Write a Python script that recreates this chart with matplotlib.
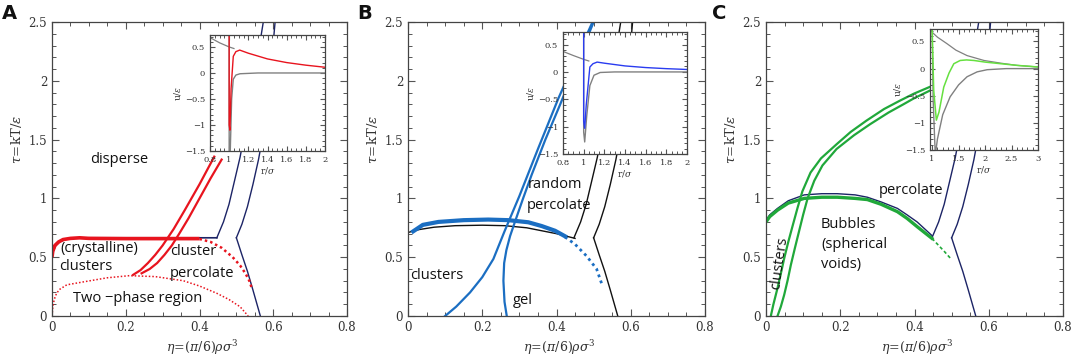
import matplotlib.pyplot as plt
from matplotlib.ticker import MultipleLocator, FuncFormatter

plt.rcParams['font.family'] = 'DejaVu Serif'
plt.rcParams['mathtext.fontset'] = 'dejavuserif'

# ---------------- data ----------------
# percolation lines (same in all three panels)
perc_left_x = [0.447, 0.465, 0.48, 0.495, 0.51, 0.525, 0.54, 0.555, 0.573]
perc_left_y = [0.665, 0.8, 0.95, 1.15, 1.35, 1.6, 1.9, 2.15, 2.5]
perc_right_x = [0.5, 0.515, 0.53, 0.545, 0.56, 0.573, 0.585, 0.595, 0.605]
perc_right_y = [0.665, 0.78, 0.93, 1.12, 1.33, 1.55, 1.85, 2.15, 2.5]
perc_down_x = [0.5, 0.515, 0.53, 0.545, 0.565]
perc_down_y = [0.665, 0.52, 0.38, 0.22, 0.0]

# panel A
a_bound_x = [0.003, 0.01, 0.02, 0.035, 0.05, 0.1, 0.2, 0.3, 0.4, 0.447]
a_bound_y = [0.55, 0.6, 0.63, 0.65, 0.66, 0.665, 0.665, 0.665, 0.665, 0.665]
a_red_x = [0.0, 0.002, 0.008, 0.018, 0.03, 0.05, 0.075, 0.1, 0.2, 0.3, 0.4]
a_red_y = [0.50, 0.55, 0.6, 0.63, 0.65, 0.66, 0.665, 0.66, 0.658, 0.658, 0.658]
a_reddot_x = [0.4, 0.43, 0.46, 0.49, 0.51, 0.525, 0.535, 0.542]
a_reddot_y = [0.655, 0.63, 0.58, 0.5, 0.43, 0.36, 0.3, 0.235]
a_dome_x = [0.0, 0.002, 0.006, 0.012, 0.02, 0.04, 0.085, 0.15, 0.21, 0.28, 0.356, 0.4, 0.447, 0.48, 0.51, 0.532]
a_dome_y = [0.0, 0.07, 0.14, 0.19, 0.225, 0.265, 0.29, 0.325, 0.343, 0.335, 0.30, 0.255, 0.193, 0.14, 0.079, 0.0]
a_pair1_x = [0.22, 0.24, 0.26, 0.28, 0.3, 0.33, 0.36, 0.4, 0.44]
a_pair1_y = [0.35, 0.39, 0.45, 0.52, 0.6, 0.74, 0.9, 1.12, 1.355]
a_pair2_x = [0.243, 0.265, 0.285, 0.305, 0.325, 0.345, 0.37, 0.4, 0.43, 0.46]
a_pair2_y = [0.363, 0.4, 0.45, 0.52, 0.6, 0.7, 0.83, 1.0, 1.17, 1.33]

# panel B
b_black_x = [0.0, 0.03, 0.07, 0.127, 0.2, 0.261, 0.32, 0.36, 0.4, 0.45]
b_black_y = [0.71, 0.735, 0.755, 0.768, 0.772, 0.768, 0.75, 0.725, 0.70, 0.66]
b_thick_x = [0.014, 0.04, 0.082, 0.15, 0.216, 0.27, 0.324, 0.36, 0.396, 0.423]
b_thick_y = [0.72, 0.775, 0.80, 0.815, 0.82, 0.815, 0.797, 0.765, 0.725, 0.678]
b_dot_x = [0.423, 0.45, 0.481, 0.508, 0.522]
b_dot_y = [0.672, 0.61, 0.51, 0.40, 0.272]
b_left_x = [0.1, 0.13, 0.167, 0.2, 0.23, 0.26, 0.3, 0.35, 0.405, 0.45, 0.497]
b_left_y = [0.0, 0.08, 0.2, 0.33, 0.485, 0.72, 1.02, 1.42, 1.85, 2.17, 2.5]
b_right_x = [0.266, 0.26, 0.257, 0.259, 0.265, 0.275, 0.288, 0.31, 0.333, 0.37, 0.41, 0.455, 0.5]
b_right_y = [0.0, 0.12, 0.3, 0.45, 0.56, 0.68, 0.8, 1.0, 1.2, 1.5, 1.8, 2.15, 2.5]

# panel C
c_navy_x = [0.0, 0.01, 0.031, 0.06, 0.103, 0.15, 0.192, 0.24, 0.273, 0.31, 0.354, 0.38, 0.407, 0.447]
c_navy_y = [0.815, 0.86, 0.915, 0.98, 1.03, 1.04, 1.04, 1.03, 1.01, 0.97, 0.915, 0.86, 0.80, 0.684]
c_green_x = [0.0, 0.01, 0.031, 0.06, 0.103, 0.15, 0.192, 0.24, 0.273, 0.31, 0.354, 0.38, 0.407, 0.447]
c_green_y = [0.80, 0.845, 0.9, 0.96, 1.0, 1.01, 1.01, 1.0, 0.99, 0.95, 0.887, 0.83, 0.76, 0.66]
c_dash_x = [0.447, 0.465, 0.48, 0.497]
c_dash_y = [0.66, 0.6, 0.55, 0.49]
c_left_x = [0.013, 0.02, 0.031, 0.04, 0.049, 0.06, 0.072, 0.085, 0.098, 0.12, 0.148, 0.19, 0.228, 0.27, 0.318, 0.36, 0.398, 0.45, 0.5]
c_left_y = [0.0, 0.1, 0.237, 0.36, 0.49, 0.63, 0.77, 0.92, 1.06, 1.22, 1.34, 1.46, 1.565, 1.66, 1.76, 1.83, 1.89, 1.96, 2.03]
c_right_x = [0.031, 0.04, 0.049, 0.058, 0.067, 0.078, 0.089, 0.1, 0.112, 0.13, 0.152, 0.19, 0.237, 0.28, 0.33, 0.37, 0.398, 0.45, 0.5]
c_right_y = [0.0, 0.08, 0.18, 0.3, 0.435, 0.58, 0.72, 0.86, 1.0, 1.15, 1.28, 1.42, 1.537, 1.63, 1.73, 1.8, 1.85, 1.93, 2.0]

# insets: potentials u/eps vs r/sigma
ia_rep_x = [0.8, 0.9, 1.0, 1.05]
ia_rep_y = [0.68, 0.58, 0.5, 0.47]
ia_well_x = [1.0, 1.0, 1.01, 1.026, 1.043, 1.07, 1.113, 1.3, 2.0]
ia_well_y = [0.8, -1.5, -1.6, -0.5, -0.12, -0.04, -0.015, 0.0, 0.0]
ia_red_x = [1.0, 1.0, 1.008, 1.02, 1.043, 1.07, 1.11, 1.2, 1.4, 1.6, 1.8, 2.0]
ia_red_y = [0.8, -1.0, -1.1, -0.3, 0.32, 0.41, 0.44, 0.38, 0.27, 0.2, 0.15, 0.11]

ib_rep_x = [0.8, 0.9, 1.0, 1.05]
ib_rep_y = [0.375, 0.3, 0.23, 0.2]
ib_well_x = [1.0, 1.0, 1.01, 1.03, 1.06, 1.1, 1.16, 1.3, 2.0]
ib_well_y = [0.8, -1.1, -1.28, -0.8, -0.25, -0.06, -0.01, 0.0, 0.0]
ib_blue_x = [1.0, 1.0, 1.01, 1.025, 1.06, 1.09, 1.13, 1.2, 1.4, 1.6, 1.8, 2.0]
ib_blue_y = [0.8, -0.9, -1.03, -0.6, 0.09, 0.15, 0.18, 0.16, 0.11, 0.08, 0.06, 0.045]

ic_rep_x = [0.98, 1.0, 1.1, 1.28, 1.45, 1.66, 1.98, 2.3, 2.6, 3.0]
ic_rep_y = [0.75, 0.67, 0.58, 0.46, 0.34, 0.24, 0.15, 0.1, 0.06, 0.03]
ic_well_x = [1.0, 1.02, 1.06, 1.1, 1.2, 1.34, 1.5, 1.66, 1.85, 2.04, 2.4, 3.0]
ic_well_y = [0.75, -0.6, -1.6, -1.3, -0.85, -0.52, -0.3, -0.15, -0.06, -0.02, 0.0, 0.0]
ic_green_x = [1.0, 1.03, 1.08, 1.13, 1.22, 1.32, 1.41, 1.53, 1.65, 1.79, 2.0, 2.3, 2.6, 3.0]
ic_green_y = [0.75, -0.4, -0.95, -0.8, -0.34, -0.08, 0.09, 0.15, 0.16, 0.15, 0.12, 0.09, 0.06, 0.03]

NAVY = '#1c2466'
RED = '#e8141e'
BLUE = '#1b6ec2'
IBLUE = '#2a3cf0'
GRAY = '#808080'
GREEN = '#20a83a'
LGREEN = '#66e040'

W, H = 1072, 356
fig = plt.figure(figsize=(W / 100, H / 100), dpi=100)


def px_axes(l, t, r, b):
    return fig.add_axes([l / W, 1 - b / H, (r - l) / W, (b - t) / H])


fmt = FuncFormatter(lambda v, p: f'{v:g}'.replace('-', '\u2212'))


def style(ax, xmaj, xmin, ymaj, ymin, size, ticklen):
    ax.xaxis.set_major_locator(MultipleLocator(xmaj))
    ax.xaxis.set_minor_locator(MultipleLocator(xmin))
    ax.yaxis.set_major_locator(MultipleLocator(ymaj))
    ax.yaxis.set_minor_locator(MultipleLocator(ymin))
    ax.xaxis.set_major_formatter(fmt)
    ax.yaxis.set_major_formatter(fmt)
    ax.tick_params(which='both', direction='in', top=True, right=True,
                   labelsize=size, color='#555555', labelcolor='#333333')
    ax.tick_params(which='major', length=ticklen, width=0.8)
    ax.tick_params(which='minor', length=ticklen * 0.55, width=0.7)
    for s in ax.spines.values():
        s.set_color('#444444')
        s.set_linewidth(0.9)


def main_axes(l, t, r, b, letter, lx):
    ax = px_axes(l, t, r, b)
    ax.set_xlim(0, 0.8)
    ax.set_ylim(0, 2.5)
    style(ax, 0.2, 0.05, 0.5, 0.1, 8.5, 5)
    ax.set_xlabel(r'$\eta\!=\!(\pi/6)\rho\sigma^3$', fontsize=9, color='#333333')
    ax.xaxis.set_label_coords(0.51, -0.075)
    ax.set_ylabel(r'$\tau\!=\!\mathrm{kT}/\epsilon$', fontsize=9.5, color='#333333')
    ax.yaxis.set_label_coords(-0.095, 0.6)
    fig.text(lx / W, 1 - 19 / H, letter, fontsize=14, fontweight='bold',
             family='DejaVu Sans', color='#111111')
    return ax


def inset_axes(l, t, r, b, xlim, xmaj, xmin):
    ax = px_axes(l, t, r, b)
    ax.set_xlim(*xlim)
    ax.set_ylim(-1.5, 0.73)
    style(ax, xmaj, xmin, 0.5, 0.1, 6, 3.5)
    ax.set_xlabel(r'$\mathrm{r}/\sigma$', fontsize=6.5, labelpad=1, color='#333333')
    ax.set_ylabel(r'$\mathrm{u}/\epsilon$', fontsize=6.5, labelpad=1, color='#333333')
    ax.set_zorder(5)
    return ax


def perc_lines(ax, color):
    ax.plot(perc_left_x, perc_left_y, color=color, lw=1.0)
    ax.plot(perc_right_x, perc_right_y, color=color, lw=1.0)
    ax.plot(perc_down_x, perc_down_y, color=color, lw=1.0)


tfont = dict(family='Open Sans', fontsize=10.5, color='#111111')

# ---------------- panel A ----------------
ax = main_axes(52, 22, 347, 316, 'A', 2)
perc_lines(ax, NAVY)
ax.plot(a_bound_x, a_bound_y, color=NAVY, lw=1.2)
ax.plot(a_red_x, a_red_y, color=RED, lw=2.6, solid_capstyle='butt')
ax.plot(a_reddot_x, a_reddot_y, color=RED, lw=1.8, ls=(0, (1, 1.2)))
ax.plot(a_dome_x, a_dome_y, color=RED, lw=1.1, ls=(0, (1, 1.3)))
ax.plot(a_pair1_x, a_pair1_y, color=RED, lw=1.6)
ax.plot(a_pair2_x, a_pair2_y, color=RED, lw=1.6)
ax.text(0.182, 1.335, 'disperse', ha='center', va='center', **tfont)
ax.text(0.022, 0.578, '(crystalline)', ha='left', va='center', **tfont)
ax.text(0.02, 0.417, 'clusters', ha='left', va='center', **tfont)
ax.text(0.32, 0.545, 'cluster', ha='left', va='center', **tfont)
ax.text(0.32, 0.365, 'percolate', ha='left', va='center', **tfont)
ax.text(0.056, 0.153, 'Two \u2212phase region', ha='left', va='center', **tfont)

ia = inset_axes(210, 35, 325, 151, (0.8, 2.0), 0.2, 0.05)
ia.plot(ia_rep_x, ia_rep_y, color=GRAY, lw=0.9)
ia.plot(ia_well_x, ia_well_y, color=GRAY, lw=1.0)
ia.plot(ia_red_x, ia_red_y, color=RED, lw=1.0)

# ---------------- panel B ----------------
ax = main_axes(408, 22, 705, 316, 'B', 357)
perc_lines(ax, '#111111')
ax.plot(b_black_x, b_black_y, color='#111111', lw=1.0)
ax.plot(b_thick_x, b_thick_y, color=BLUE, lw=3.0)
ax.plot(b_dot_x, b_dot_y, color=BLUE, lw=2.0, ls=(0, (1, 1.3)))
ax.plot(b_left_x, b_left_y, color=BLUE, lw=1.6)
ax.plot(b_right_x, b_right_y, color=BLUE, lw=1.6)
ax.text(0.323, 1.12, 'random', ha='left', va='center', **tfont)
ax.text(0.32, 0.94, 'percolate', ha='left', va='center', **tfont)
ax.text(0.005, 0.343, 'clusters', ha='left', va='center', **tfont)
ax.text(0.283, 0.13, 'gel', ha='left', va='center', **tfont)

ib = inset_axes(563, 32, 687, 154, (0.8, 2.0), 0.2, 0.05)
ib.plot(ib_rep_x, ib_rep_y, color=GRAY, lw=0.9)
ib.plot(ib_well_x, ib_well_y, color=GRAY, lw=1.0)
ib.plot(ib_blue_x, ib_blue_y, color=IBLUE, lw=1.0)

# ---------------- panel C ----------------
ax = main_axes(766, 22, 1063, 316, 'C', 712)
perc_lines(ax, NAVY)
ax.plot(c_navy_x, c_navy_y, color=NAVY, lw=1.0)
ax.plot(c_green_x, c_green_y, color=GREEN, lw=2.4)
ax.plot(c_dash_x, c_dash_y, color=GREEN, lw=1.2, ls=(0, (2, 1.5)))
ax.plot(c_left_x, c_left_y, color=GREEN, lw=1.6)
ax.plot(c_right_x, c_right_y, color=GREEN, lw=1.6)
ax.text(0.036, 0.45, 'clusters', ha='center', va='center', rotation=82, **tfont)
ax.text(0.148, 0.78, 'Bubbles', ha='left', va='center', **tfont)
ax.text(0.148, 0.604, '(spherical', ha='left', va='center', **tfont)
ax.text(0.148, 0.435, 'voids)', ha='left', va='center', **tfont)
ax.text(0.304, 1.07, 'percolate', ha='left', va='center', **tfont)

ic = inset_axes(930, 29, 1038, 150, (0.96, 3.0), 0.5, 0.1)
ic.plot(ic_rep_x, ic_rep_y, color=GRAY, lw=0.9)
ic.plot(ic_well_x, ic_well_y, color=GRAY, lw=1.0)
ic.plot(ic_green_x, ic_green_y, color=LGREEN, lw=1.1)

fig.savefig('out.png', dpi=100)
